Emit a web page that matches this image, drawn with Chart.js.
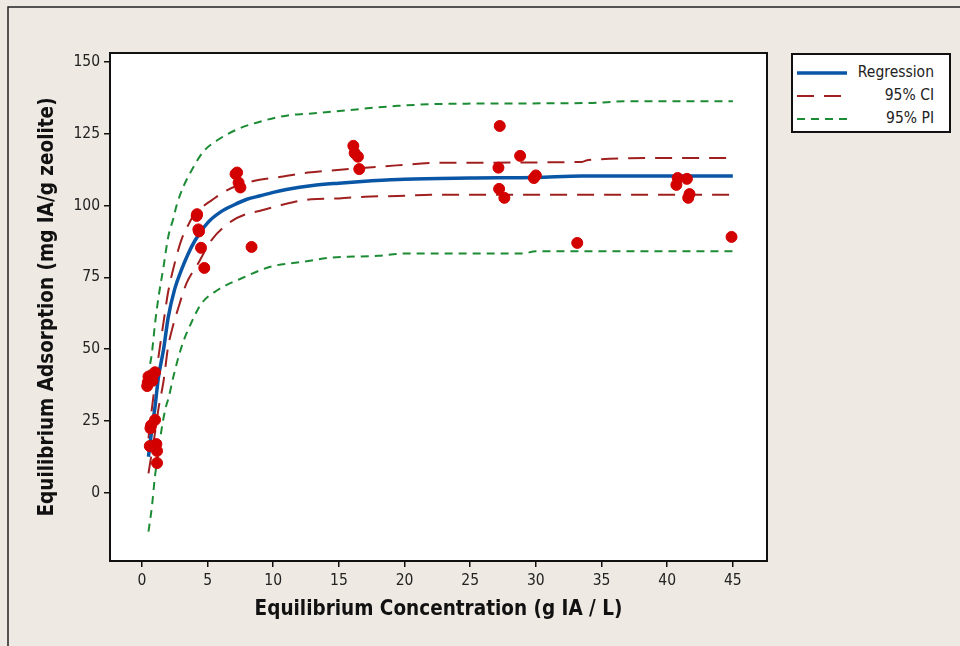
<!DOCTYPE html>
<html>
<head>
<meta charset="utf-8">
<script src="https://cdn.jsdelivr.net/npm/chart.js@4.4.0/dist/chart.umd.min.js"></script>
<style>
  html, body { margin: 0; padding: 0; background: #eee9e3; }
  #wrap { position: relative; width: 960px; height: 646px; }
  #legend {
    position: absolute; left: 791px; top: 53px; width: 156px; height: 76px;
    border: 2px solid #111; background: #fff;
    font-family: "DejaVu Sans Condensed", "DejaVu Sans", sans-serif; font-size: 15.5px; color: #222;
  }
  .row { position: absolute; left: 0; width: 156px; height: 18px; }
  .row svg { position: absolute; left: 4px; top: 1px; }
  .row span { position: absolute; right: 15px; top: -1px; }
</style>
</head>
<body>
<div id="wrap">
  <canvas id="chart" width="960" height="646"></canvas>
  <div id="legend">
    <div class="row" style="top:9px">
      <svg width="50" height="16"><line x1="0" y1="8" x2="50" y2="8" stroke="#0a56a6" stroke-width="3.5"/></svg>
      <span>Regression</span>
    </div>
    <div class="row" style="top:32px">
      <svg width="50" height="16"><line x1="0" y1="8" x2="50" y2="8" stroke="#a0201f" stroke-width="2" stroke-dasharray="17,10"/></svg>
      <span>95% CI</span>
    </div>
    <div class="row" style="top:55px">
      <svg width="50" height="16"><line x1="0" y1="8" x2="50" y2="8" stroke="#1c8c34" stroke-width="2" stroke-dasharray="8,6"/></svg>
      <span>95% PI</span>
    </div>
  </div>
</div>
<script>
// observed data (concentration g IA/L, adsorption mg IA/g zeolite)
const obsX = [0.45, 0.5, 0.4, 0.9, 1.0, 0.8, 1.0, 0.65, 0.7, 0.6, 1.1, 1.15, 1.15,
              4.17, 4.2, 4.3, 4.35, 4.5, 4.75, 7.13, 7.25, 7.36, 7.5, 8.35,
              16.1, 16.2, 16.45, 16.55, 27.15, 27.25, 27.2, 27.6, 28.8, 29.85, 30.0,
              33.15, 40.7, 40.8, 41.5, 41.6, 41.7, 44.9];
const obsY = [38.5, 40.5, 37.2, 41.5, 42, 39, 25.4, 22.5, 23.5, 16.3, 17, 14.6, 10.4,
              96.4, 97, 91.7, 91, 85.3, 78.3, 111, 111.5, 108, 106.3, 85.6,
              120.8, 118.3, 117, 112.7, 113.2, 127.7, 105.8, 102.7, 117.3, 109.6, 110.5,
              87, 107.2, 109.6, 109.3, 102.7, 104, 89.1];

// fitted line
const regX = [0.5, 0.75, 1.0, 1.25, 1.65, 2.0, 2.5, 3.0, 3.5, 4.0, 5.0, 6.0, 7.0, 8.0, 9.0,
              10, 11, 13, 15, 17.5, 20, 25, 30, 33.5, 40, 45];
const regY = [12.6, 22, 30, 40, 50, 61, 71, 77.5, 83, 87.5, 94, 97.8, 100.2, 102.2, 103.4,
              104.6, 105.6, 107, 107.8, 108.6, 109.2, 109.6, 109.8, 110.3, 110.3, 110.3];

// 95% confidence band
const ciUpX = [0.5, 0.75, 1.0, 1.25, 1.65, 2.0, 2.5, 3.0, 3.5, 4.0, 4.68, 5.3, 6.3, 7.3, 8.85,
               10.6, 12.65, 14.9, 18, 23, 33.5, 34, 41, 45];
const ciUpY = [19, 29, 38, 47, 59.5, 70, 80, 88, 93, 97, 99.8, 101.8, 104.9, 107, 108.9,
               110, 111.5, 112.4, 113.5, 114.9, 115.2, 115.9, 116.6, 116.6];
const ciLoX = [0.5, 0.75, 1.0, 1.25, 1.65, 2.0, 2.3, 2.8, 3.4, 4.3, 5.3, 6.8, 8.1, 8.85,
               10.6, 12.9, 15, 17, 20, 22, 45];
const ciLoY = [6.8, 14, 21, 29, 39, 51, 57, 64.8, 73, 80, 88, 94.5, 97.3, 98,
               100.2, 102.2, 102.5, 103.1, 103.4, 103.8, 103.8];

// 95% prediction band
const piUpX = [0.5, 0.6, 0.76, 1.0, 1.27, 1.65, 2.0, 2.4, 2.65, 3.2, 3.8, 4.68, 5.8, 7.3, 9.3,
               11.4, 12.5, 19.5, 23, 34, 37, 45];
const piUpY = [40, 44, 48.6, 59, 68.3, 78.8, 89, 95.6, 100.2, 107, 112.4, 118.8, 122.9, 126.6, 129.6,
               131.6, 131.9, 134.7, 135.4, 135.7, 136.3, 136.3];
const piLoX = [0.5, 0.76, 1.0, 1.14, 1.37, 1.77, 2.05, 2.4, 3.03, 3.8, 4.55, 5.8, 7.6, 9.86,
               12.4, 14.2, 18, 20, 29, 30, 45];
const piLoY = [-13.5, -4.8, 6, 10.4, 18.4, 28.9, 33.4, 40.5, 51, 59.6, 66, 70.7, 74.7, 78.8,
               80.5, 81.8, 82.5, 83.3, 83.3, 84.1, 84.1];

const xTicks = [0, 5, 10, 15, 20, 25, 30, 35, 40, 45];
const yTicks = [0, 25, 50, 75, 100, 125, 150];

const FONT = '"DejaVu Sans Condensed", "DejaVu Sans", sans-serif';

function pts(xs, ys) {
  return xs.map((x, i) => ({ x: x, y: ys[i] }));
}

function curve(xs, ys, color, width, dash) {
  return {
    type: 'line',
    data: pts(xs, ys),
    borderColor: color,
    borderWidth: width,
    borderDash: dash,
    pointRadius: 0,
    fill: false,
    cubicInterpolationMode: 'monotone',
    order: 2
  };
}

const framePlugin = {
  id: 'frame',
  beforeDraw(chart) {
    const ctx = chart.ctx, a = chart.chartArea;
    ctx.save();
    ctx.fillStyle = '#eee9e3';
    ctx.fillRect(0, 0, chart.width, chart.height);
    ctx.fillStyle = '#fff';
    ctx.fillRect(a.left, a.top, a.right - a.left, a.bottom - a.top);
    // outer frame
    ctx.strokeStyle = '#222';
    ctx.lineWidth = 1.5;
    ctx.beginPath();
    ctx.moveTo(8, 646);
    ctx.lineTo(8, 7);
    ctx.lineTo(960, 7);
    ctx.stroke();
    ctx.restore();
  },
  afterDraw(chart) {
    const ctx = chart.ctx, a = chart.chartArea;
    ctx.save();
    ctx.strokeStyle = '#111';
    ctx.lineWidth = 2;
    ctx.strokeRect(a.left, a.top, a.right - a.left, a.bottom - a.top);
    ctx.restore();
  }
};

new Chart(document.getElementById('chart'), {
  type: 'scatter',
  data: {
    datasets: [
      {
        label: 'Observed',
        data: pts(obsX, obsY),
        backgroundColor: '#d30000',
        borderColor: '#d30000',
        pointRadius: 5.5,
        pointHoverRadius: 5.5,
        order: 1
      },
      curve(regX, regY, '#0a56a6', 3.5, []),
      curve(ciUpX, ciUpY, '#a0201f', 2, [17, 10]),
      curve(ciLoX, ciLoY, '#a0201f', 2, [17, 10]),
      curve(piUpX, piUpY, '#1c8c34', 2, [8, 6]),
      curve(piLoX, piLoY, '#1c8c34', 2, [8, 6])
    ]
  },
  options: {
    responsive: false,
    devicePixelRatio: 1,
    animation: false,
    layout: { padding: { left: 0, top: 53, right: 193, bottom: 0 } },
    plugins: { legend: { display: false }, tooltip: { enabled: false } },
    scales: {
      x: {
        type: 'linear',
        min: -2.43,
        max: 47.6,
        afterFit(s) { s.height = 85; },
        afterBuildTicks(s) { s.ticks = xTicks.map(v => ({ value: v })); },
        border: { display: false },
        grid: { drawOnChartArea: false, drawTicks: true, tickLength: 6, color: '#111', lineWidth: 1.5 },
        ticks: { color: '#222', padding: 5, font: { family: FONT, size: 15.5 } },
        title: {
          display: true,
          text: 'Equilibrium Concentration (g IA / L)',
          color: '#111',
          font: { family: FONT, size: 20.5, weight: 'bold' },
          padding: { top: 0, bottom: 24 }
        }
      },
      y: {
        type: 'linear',
        min: -23.7,
        max: 153.1,
        afterFit(s) { s.width = 110; },
        afterBuildTicks(s) { s.ticks = yTicks.map(v => ({ value: v })); },
        border: { display: false },
        grid: { drawOnChartArea: false, drawTicks: true, tickLength: 6, color: '#111', lineWidth: 1.5 },
        ticks: { color: '#222', padding: 4, font: { family: FONT, size: 15.5 } },
        title: {
          display: true,
          text: 'Equilibrium Adsorption (mg IA/g zeolite)',
          color: '#111',
          font: { family: FONT, size: 20.5, weight: 'bold' },
          padding: { top: 35, bottom: 0 }
        }
      }
    }
  },
  plugins: [framePlugin]
});
</script>
</body>
</html>
